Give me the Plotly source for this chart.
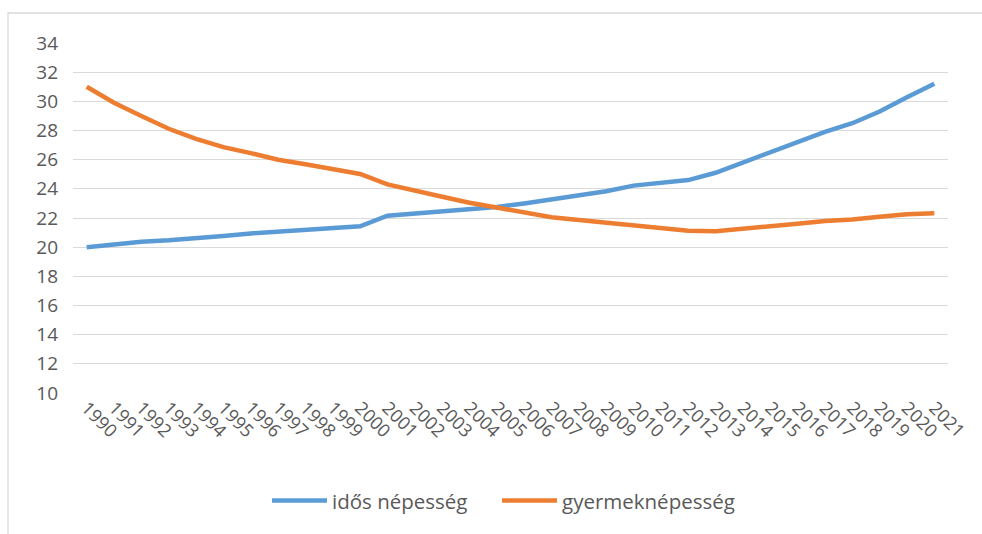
import plotly.graph_objects as go

years = [str(y) for y in range(1990, 2022)]
idos = [20.0, 20.2, 20.37, 20.47, 20.6, 20.76, 20.94, 21.08, 21.22, 21.36, 21.43,
        22.16, 22.3, 22.43, 22.6, 22.75, 23.0, 23.27, 23.55, 23.83, 24.22,
        24.38, 24.6, 25.1, 25.8, 26.5, 27.2, 27.9, 28.5, 29.3, 30.28, 31.2]
gyermek = [31.0, 29.9, 29.0, 28.12, 27.42, 26.86, 26.45, 26.0, 25.68, 25.36, 25.02,
           24.3, 23.85, 23.46, 23.05, 22.7, 22.37, 22.05, 21.86, 21.66, 21.47,
           21.27, 21.13, 21.1, 21.25, 21.45, 21.6, 21.8, 21.9, 22.08, 22.25, 22.32]
series_names = ["idős népesség", "gyermeknépesség"]
colors = ["#5B9BD5", "#ED7D31"]
y_ticks = list(range(10, 35, 2))

FONT = "Open Sans"
TXT = "#595959"

fig = go.Figure()
for i, (name, vals, col) in enumerate(zip(series_names, [idos, gyermek], colors)):
    fig.add_trace(go.Scatter(
        x=years, y=vals, name=name, mode="lines",
        line=dict(color=col, width=4.5),
        hoverinfo="x+y+name",
        legend="legend" if i == 0 else "legend2",
    ))

legend_common = dict(orientation="h", xanchor="left", y=-0.308, yanchor="middle",
                     font=dict(family=FONT, size=20.5, color=TXT), itemwidth=55,
                     bgcolor="rgba(0,0,0,0)")

fig.update_layout(
    width=982, height=534,
    margin=dict(l=73, r=34, t=43, b=141),
    paper_bgcolor="white", plot_bgcolor="white",
    font=dict(family=FONT, color=TXT, size=18),
    showlegend=True,
    legend=dict(x=194 / 875, **legend_common),
    legend2=dict(x=424 / 875, **legend_common),
    xaxis=dict(type="category", tickangle=45, showgrid=False, showline=False,
               ticks="", tickfont=dict(family=FONT, size=18, color=TXT),
               range=[-0.5, len(years) - 0.5], fixedrange=True, automargin=False),
    yaxis=dict(range=[10, 34], tickvals=y_ticks, showgrid=True, gridcolor="#D9D9D9",
               gridwidth=1.3, zeroline=False, showline=False, ticks="",
               tickfont=dict(family=FONT, size=19, color=TXT), ticklabelstandoff=14,
               fixedrange=True, automargin=False),
    shapes=[dict(type="rect", xref="paper", yref="paper",
                 x0=(8 - 73) / 875, x1=1.2, y0=-0.5, y1=1 + 30 / 350,
                 line=dict(color="#D9D9D9", width=1.3), fillcolor="rgba(0,0,0,0)",
                 layer="below")],
)

fig.write_html("out.html", config={"displayModeBar": False},
               post_script="document.body.style.margin='0px';document.body.style.overflow='hidden';")
